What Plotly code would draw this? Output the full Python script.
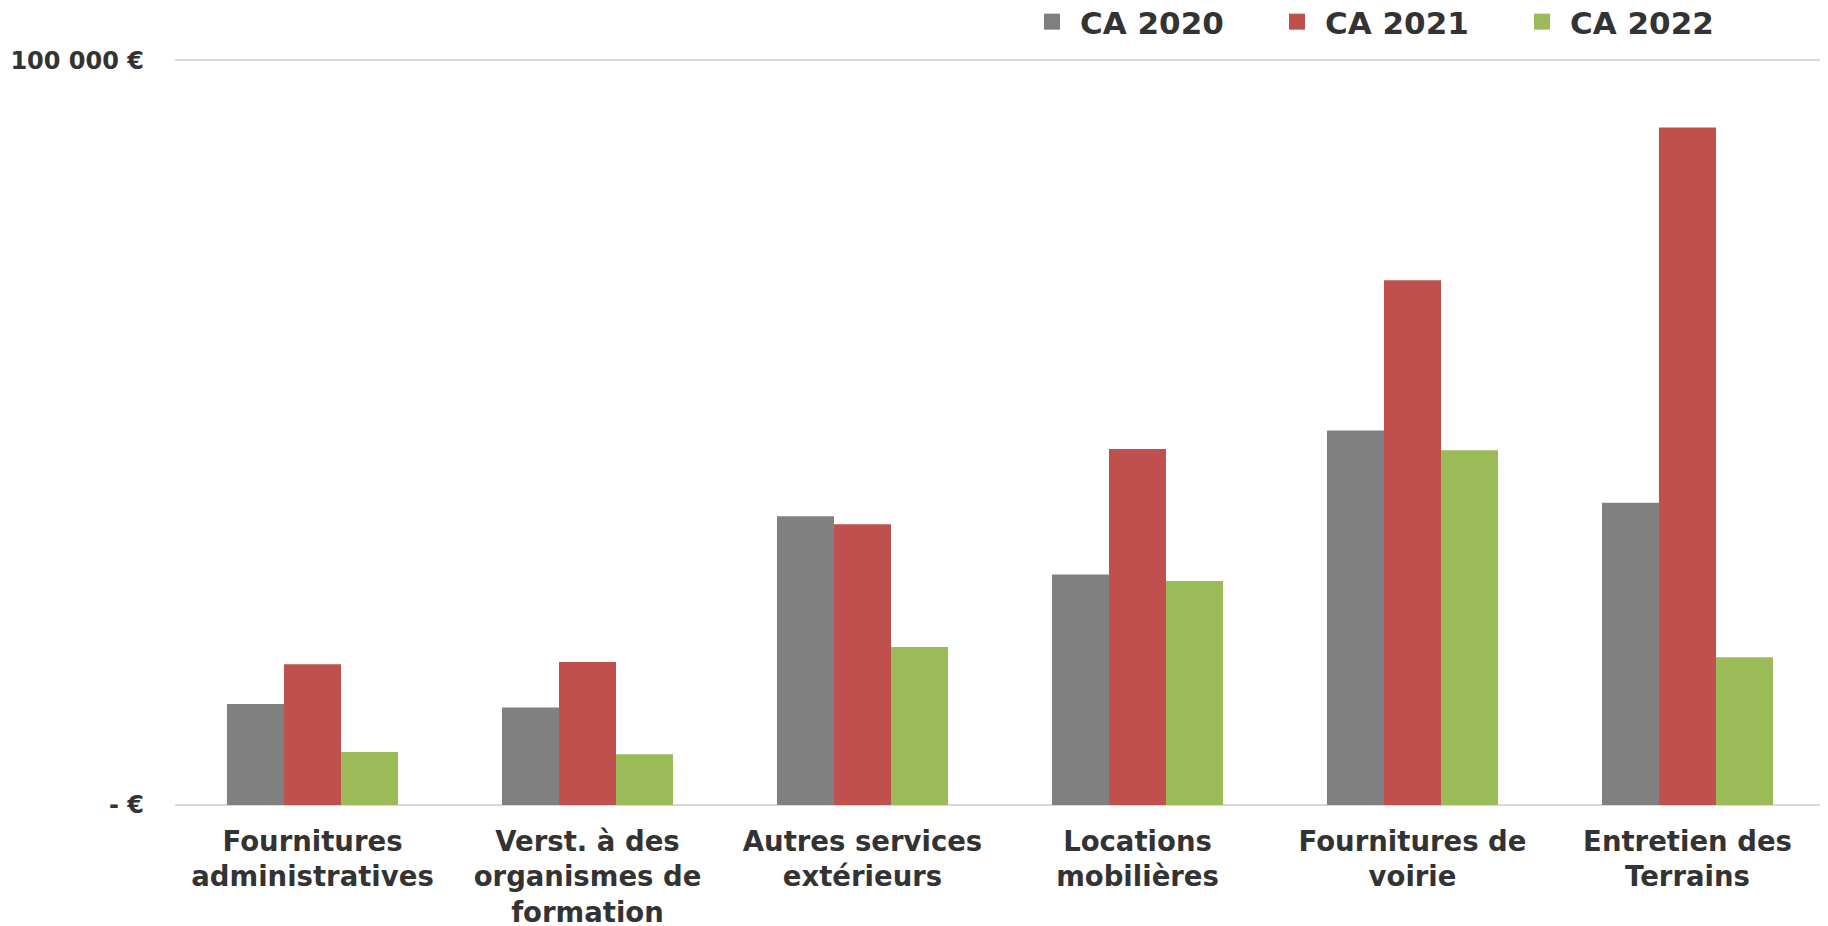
import plotly.graph_objects as go

categories = [
    "Fournitures<br>administratives",
    "Verst. à des<br>organismes de<br>formation",
    "Autres services<br>extérieurs",
    "Locations<br>mobilières",
    "Fournitures de<br>voirie",
    "Entretien des<br>Terrains",
]
series_names = ["CA 2020", "CA 2021", "CA 2022"]
ca_2020 = [13560, 13110, 38790, 30970, 50300, 40580]
ca_2021 = [18890, 19200, 37720, 47830, 70470, 91010]
ca_2022 = [7110, 6810, 21210, 30070, 47650, 19830]
colors = ["#808080", "#C0504D", "#9BBB59"]
y_tickvals = [0, 100000]
y_ticktext = ["- €", "100 000 €"]

FONT = "DejaVu Sans"
TEXT = "#333333"
W, H = 1820, 918

fig = go.Figure()
for name, vals, col in zip(series_names, [ca_2020, ca_2021, ca_2022], colors):
    fig.add_trace(go.Bar(x=categories, y=vals, name=name, marker_color=col,
                         marker_line_width=0, showlegend=False))
for name, col in zip(series_names, colors):
    fig.add_trace(go.Scatter(x=[None], y=[None], mode="markers", name=name,
                             marker=dict(symbol="square", size=16, color=col)))

fig.update_layout(
    width=W, height=H,
    paper_bgcolor="white", plot_bgcolor="white",
    margin=dict(l=167, r=3, t=44.5, b=121, autoexpand=False),
    barmode="group", bargap=0.378, bargroupgap=0,
    font=dict(family=FONT, color=TEXT),
    legend=dict(orientation="h", xref="container", yref="container",
                x=1016 / W, xanchor="left", y=1 - 14 / H, yanchor="middle",
                font=dict(family=FONT, size=31, color=TEXT, weight="bold"),
                itemwidth=46, entrywidth=184, bgcolor="rgba(0,0,0,0)"),
)
fig.update_xaxes(showgrid=False, showline=False, zeroline=False, automargin=False,
                 tickfont=dict(family=FONT, size=27.5, color=TEXT, weight="bold"),
                 ticks="", ticklabelstandoff=17)
fig.update_yaxes(range=[0, 101000], tickvals=y_tickvals, ticktext=y_ticktext,
                 automargin=False,
                 showgrid=True, gridcolor="#D9D9D9", gridwidth=2,
                 zeroline=True, zerolinecolor="#D9D9D9", zerolinewidth=2,
                 showline=False, ticks="", ticklabelstandoff=30,
                 tickfont=dict(family=FONT, size=24, color=TEXT, weight="bold"))

fig.write_html("out.html")
